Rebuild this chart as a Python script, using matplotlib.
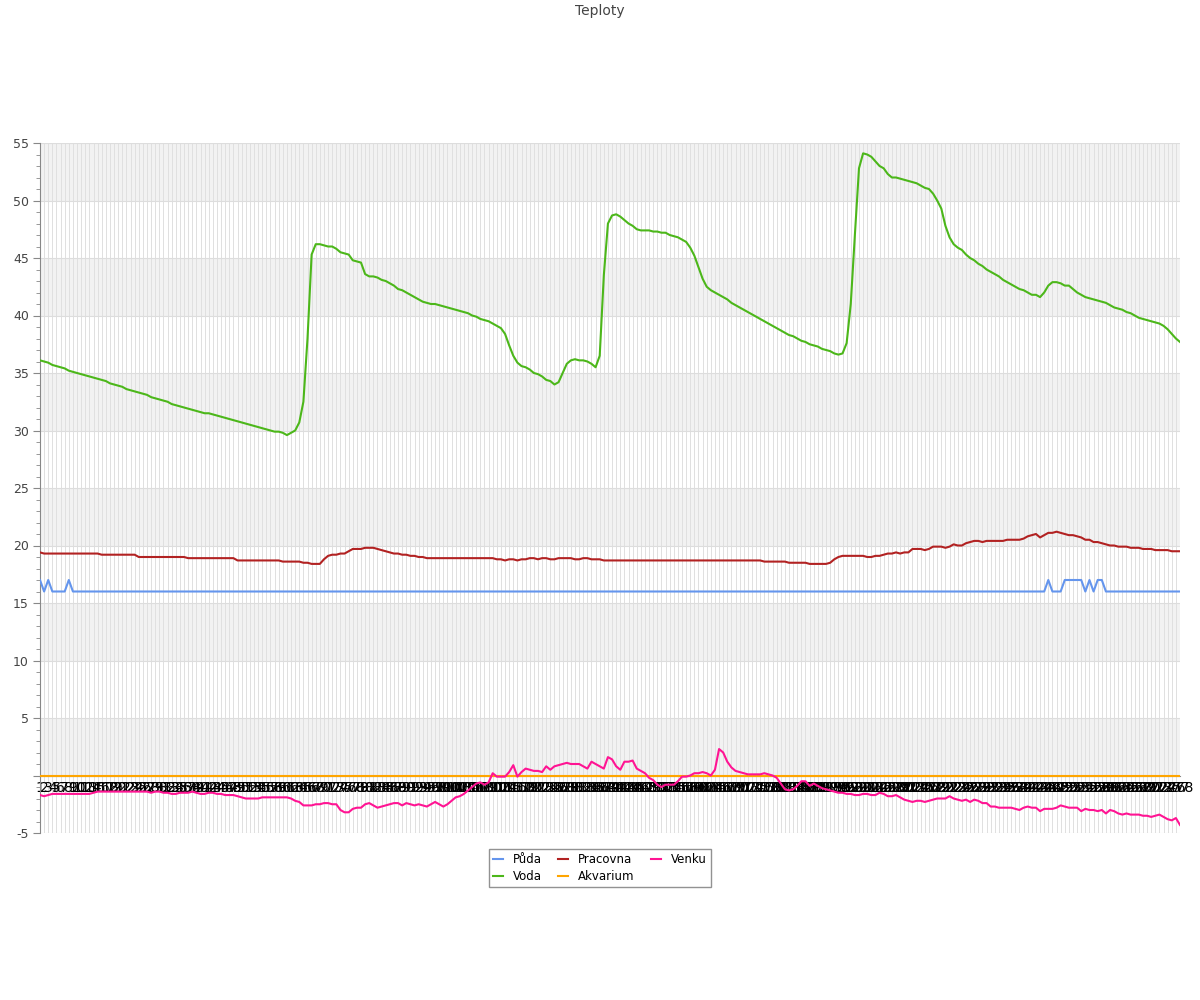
import matplotlib
matplotlib.use("Agg")
import matplotlib.pyplot as plt
from matplotlib.ticker import MultipleLocator

# Measured temperatures, one reading per sample (1..278)
voda = [
    36.1, 36.0, 35.9, 35.7, 35.6, 35.5, 35.4, 35.2, 35.1, 35.0,
    34.9, 34.8, 34.7, 34.6, 34.5, 34.4, 34.3, 34.1, 34.0, 33.9,
    33.8, 33.6, 33.5, 33.4, 33.3, 33.2, 33.1, 32.9, 32.8, 32.7,
    32.6, 32.5, 32.3, 32.2, 32.1, 32.0, 31.9, 31.8, 31.7, 31.6,
    31.5, 31.5, 31.4, 31.3, 31.2, 31.1, 31.0, 30.9, 30.8, 30.7,
    30.6, 30.5, 30.4, 30.3, 30.2, 30.1, 30.0, 29.9, 29.9, 29.8,
    29.6, 29.8, 30.0, 30.7, 32.5, 38.0, 45.3, 46.2, 46.2, 46.1,
    46.0, 46.0, 45.8, 45.5, 45.4, 45.3, 44.8, 44.7, 44.6, 43.6,
    43.4, 43.4, 43.3, 43.1, 43.0, 42.8, 42.6, 42.3, 42.2, 42.0,
    41.8, 41.6, 41.4, 41.2, 41.1, 41.0, 41.0, 40.9, 40.8, 40.7,
    40.6, 40.5, 40.4, 40.3, 40.2, 40.0, 39.9, 39.7, 39.6, 39.5,
    39.3, 39.1, 38.9, 38.4, 37.4, 36.5, 35.9, 35.6, 35.5, 35.3,
    35.0, 34.9, 34.7, 34.4, 34.3, 34.0, 34.2, 35.0, 35.8, 36.1,
    36.2, 36.1, 36.1, 36.0, 35.8, 35.5, 36.5, 43.5, 48.0, 48.7,
    48.8, 48.6, 48.3, 48.0, 47.8, 47.5, 47.4, 47.4, 47.4, 47.3,
    47.3, 47.2, 47.2, 47.0, 46.9, 46.8, 46.6, 46.4, 45.9, 45.2,
    44.2, 43.2, 42.5, 42.2, 42.0, 41.8, 41.6, 41.4, 41.1, 40.9,
    40.7, 40.5, 40.3, 40.1, 39.9, 39.7, 39.5, 39.3, 39.1, 38.9,
    38.7, 38.5, 38.3, 38.2, 38.0, 37.8, 37.7, 37.5, 37.4, 37.3,
    37.1, 37.0, 36.9, 36.7, 36.6, 36.7, 37.6, 41.0, 47.0, 52.8,
    54.1, 54.0, 53.8, 53.4, 53.0, 52.8, 52.3, 52.0, 52.0, 51.9,
    51.8, 51.7, 51.6, 51.5, 51.3, 51.1, 51.0, 50.6, 50.0, 49.3,
    47.8, 46.8, 46.2, 45.9, 45.7, 45.3, 45.0, 44.8, 44.5, 44.3,
    44.0, 43.8, 43.6, 43.4, 43.1, 42.9, 42.7, 42.5, 42.3, 42.2,
    42.0, 41.8, 41.8, 41.6, 42.0, 42.6, 42.9, 42.9, 42.8, 42.6,
    42.6, 42.3, 42.0, 41.8, 41.6, 41.5, 41.4, 41.3, 41.2, 41.1,
    40.9, 40.7, 40.6, 40.5, 40.3, 40.2, 40.0, 39.8, 39.7, 39.6,
    39.5, 39.4, 39.3, 39.1, 38.8, 38.4, 38.0, 37.7,
]

pracovna = [
    19.4, 19.3, 19.3, 19.3, 19.3, 19.3, 19.3, 19.3, 19.3, 19.3,
    19.3, 19.3, 19.3, 19.3, 19.3, 19.2, 19.2, 19.2, 19.2, 19.2,
    19.2, 19.2, 19.2, 19.2, 19.0, 19.0, 19.0, 19.0, 19.0, 19.0,
    19.0, 19.0, 19.0, 19.0, 19.0, 19.0, 18.9, 18.9, 18.9, 18.9,
    18.9, 18.9, 18.9, 18.9, 18.9, 18.9, 18.9, 18.9, 18.7, 18.7,
    18.7, 18.7, 18.7, 18.7, 18.7, 18.7, 18.7, 18.7, 18.7, 18.6,
    18.6, 18.6, 18.6, 18.6, 18.5, 18.5, 18.4, 18.4, 18.4, 18.8,
    19.1, 19.2, 19.2, 19.3, 19.3, 19.5, 19.7, 19.7, 19.7, 19.8,
    19.8, 19.8, 19.7, 19.6, 19.5, 19.4, 19.3, 19.3, 19.2, 19.2,
    19.1, 19.1, 19.0, 19.0, 18.9, 18.9, 18.9, 18.9, 18.9, 18.9,
    18.9, 18.9, 18.9, 18.9, 18.9, 18.9, 18.9, 18.9, 18.9, 18.9,
    18.9, 18.8, 18.8, 18.7, 18.8, 18.8, 18.7, 18.8, 18.8, 18.9,
    18.9, 18.8, 18.9, 18.9, 18.8, 18.8, 18.9, 18.9, 18.9, 18.9,
    18.8, 18.8, 18.9, 18.9, 18.8, 18.8, 18.8, 18.7, 18.7, 18.7,
    18.7, 18.7, 18.7, 18.7, 18.7, 18.7, 18.7, 18.7, 18.7, 18.7,
    18.7, 18.7, 18.7, 18.7, 18.7, 18.7, 18.7, 18.7, 18.7, 18.7,
    18.7, 18.7, 18.7, 18.7, 18.7, 18.7, 18.7, 18.7, 18.7, 18.7,
    18.7, 18.7, 18.7, 18.7, 18.7, 18.7, 18.6, 18.6, 18.6, 18.6,
    18.6, 18.6, 18.5, 18.5, 18.5, 18.5, 18.5, 18.4, 18.4, 18.4,
    18.4, 18.4, 18.5, 18.8, 19.0, 19.1, 19.1, 19.1, 19.1, 19.1,
    19.1, 19.0, 19.0, 19.1, 19.1, 19.2, 19.3, 19.3, 19.4, 19.3,
    19.4, 19.4, 19.7, 19.7, 19.7, 19.6, 19.7, 19.9, 19.9, 19.9,
    19.8, 19.9, 20.1, 20.0, 20.0, 20.2, 20.3, 20.4, 20.4, 20.3,
    20.4, 20.4, 20.4, 20.4, 20.4, 20.5, 20.5, 20.5, 20.5, 20.6,
    20.8, 20.9, 21.0, 20.7, 20.9, 21.1, 21.1, 21.2, 21.1, 21.0,
    20.9, 20.9, 20.8, 20.7, 20.5, 20.5, 20.3, 20.3, 20.2, 20.1,
    20.0, 20.0, 19.9, 19.9, 19.9, 19.8, 19.8, 19.8, 19.7, 19.7,
    19.7, 19.6, 19.6, 19.6, 19.6, 19.5, 19.5, 19.5,
]

venku = [
    -1.7, -1.8, -1.7, -1.6, -1.6, -1.6, -1.6, -1.6, -1.6, -1.6,
    -1.6, -1.6, -1.6, -1.5, -1.4, -1.4, -1.4, -1.4, -1.4, -1.4,
    -1.4, -1.4, -1.4, -1.4, -1.4, -1.4, -1.4, -1.5, -1.4, -1.4,
    -1.5, -1.5, -1.6, -1.6, -1.5, -1.5, -1.5, -1.4, -1.5, -1.6,
    -1.6, -1.5, -1.5, -1.6, -1.6, -1.7, -1.7, -1.7, -1.8, -1.9,
    -2.0, -2.0, -2.0, -2.0, -1.9, -1.9, -1.9, -1.9, -1.9, -1.9,
    -1.9, -2.0, -2.2, -2.3, -2.6, -2.6, -2.6, -2.5, -2.5, -2.4,
    -2.4, -2.5, -2.5, -3.0, -3.2, -3.2, -2.9, -2.8, -2.8, -2.5,
    -2.4, -2.6, -2.8, -2.7, -2.6, -2.5, -2.4, -2.4, -2.6, -2.4,
    -2.5, -2.6, -2.5, -2.6, -2.7, -2.5, -2.3, -2.5, -2.7, -2.5,
    -2.2, -1.9, -1.8, -1.6, -1.3, -1.0, -0.7, -0.6, -0.8, -0.6,
    0.2, -0.1, -0.1, -0.1, 0.3, 0.9, -0.1, 0.3, 0.6, 0.5,
    0.4, 0.4, 0.3, 0.8, 0.5, 0.8, 0.9, 1.0, 1.1, 1.0,
    1.0, 1.0, 0.8, 0.6, 1.2, 1.0, 0.8, 0.6, 1.6, 1.4,
    0.8, 0.5, 1.2, 1.2, 1.3, 0.6, 0.4, 0.2, -0.2, -0.4,
    -0.8, -1.0, -0.8, -0.8, -0.8, -0.5, -0.1, -0.1, 0.0, 0.2,
    0.2, 0.3, 0.2, 0.0, 0.5, 2.3, 2.0, 1.2, 0.7, 0.4,
    0.3, 0.2, 0.1, 0.1, 0.1, 0.1, 0.2, 0.1, 0.0, -0.2,
    -0.7, -1.2, -1.3, -1.2, -0.9, -0.5, -0.5, -0.9, -0.7, -0.9,
    -1.1, -1.2, -1.3, -1.4, -1.5, -1.5, -1.6, -1.6, -1.7, -1.7,
    -1.6, -1.6, -1.7, -1.7, -1.5, -1.6, -1.8, -1.8, -1.7, -1.9,
    -2.1, -2.2, -2.3, -2.2, -2.2, -2.3, -2.2, -2.1, -2.0, -2.0,
    -2.0, -1.8, -2.0, -2.1, -2.2, -2.1, -2.3, -2.1, -2.2, -2.4,
    -2.4, -2.7, -2.7, -2.8, -2.8, -2.8, -2.8, -2.9, -3.0, -2.8,
    -2.7, -2.8, -2.8, -3.1, -2.9, -2.9, -2.9, -2.8, -2.6, -2.7,
    -2.8, -2.8, -2.8, -3.1, -2.9, -3.0, -3.0, -3.1, -3.0, -3.3,
    -3.0, -3.1, -3.3, -3.4, -3.3, -3.4, -3.4, -3.4, -3.5, -3.5,
    -3.6, -3.5, -3.4, -3.6, -3.8, -3.9, -3.7, -4.3,
]

# Půda is 16 almost everywhere, with a few jumps to 17
puda = (
    [17, 16, 17, 16, 16, 16, 16, 17, 16, 16]
    + [16] * 235
    + [17, 16, 16, 16, 17]
    + [17, 17, 17, 17, 16, 17, 16, 17, 17, 16]
    + [16] * 18
)

# Akvarium sensor reads 0 the whole time
akvarium = [0] * len(voda)

labels = [str(i) for i in range(1, len(voda) + 1)]

series = [
    ("Půda", puda, "#6495ed"),
    ("Voda", voda, "#4cb71a"),
    ("Pracovna", pracovna, "#b22222"),
    ("Akvarium", akvarium, "#ffa500"),
    ("Venku", venku, "#ff1493"),
]

fig = plt.figure(figsize=(12, 10), dpi=100)
ax = fig.add_axes([40 / 1200, 1 - 833 / 1000, 1140 / 1200, 690 / 1000])

x = list(range(len(voda)))

# alternating grey bands
for lo in range(0, 55, 10):
    ax.axhspan(lo, lo + 5, color="#f2f2f2", zorder=0, lw=0)

# vertical grid at every sample, horizontal at major ticks
for xi in x:
    ax.axvline(xi, color="#e0e0e0", lw=0.7, zorder=0.5)
for yv in range(-5, 56, 5):
    ax.axhline(yv, color="#dddddd", lw=0.8, zorder=0.5)

for name, vals, col in series:
    ax.plot(x, vals, color=col, lw=1.5, label=name, zorder=3)

ax.set_xlim(0, len(voda) - 1)
ax.set_ylim(-5, 55)

ax.yaxis.set_minor_locator(MultipleLocator(1))
ax.set_yticks(list(range(-5, 56, 5)))
ax.set_yticklabels(["-5", "", "5", "10", "15", "20", "25", "30", "35", "40", "45", "50", "55"])
ax.tick_params(axis="y", which="major", length=5, color="#888888",
               labelsize=9, labelcolor="#444444", pad=3)
ax.tick_params(axis="y", which="minor", length=3, color="#888888")

ax.set_xticks(x)
ax.set_xticklabels(labels, fontsize=8, color="#333333")
ax.tick_params(axis="x", length=0, pad=4)

for side in ["top", "right"]:
    ax.spines[side].set_visible(False)
ax.spines["left"].set_color("#888888")
ax.spines["bottom"].set_position(("data", 0))
ax.spines["bottom"].set_color("#888888")

fig.text(0.5, 0.989, "Teploty", ha="center", va="center", fontsize=10, color="#444444")

leg = fig.legend(loc="center", bbox_to_anchor=(0.5, 0.132), ncol=3, fontsize=8.5,
                 frameon=True, fancybox=False, handlelength=0.85, columnspacing=1.35,
                 handletextpad=0.85, borderpad=0.35, labelspacing=0.3, borderaxespad=0)
leg.get_frame().set_edgecolor("#777777")
leg.get_frame().set_linewidth(1)

fig.savefig("out.png", dpi=100)
